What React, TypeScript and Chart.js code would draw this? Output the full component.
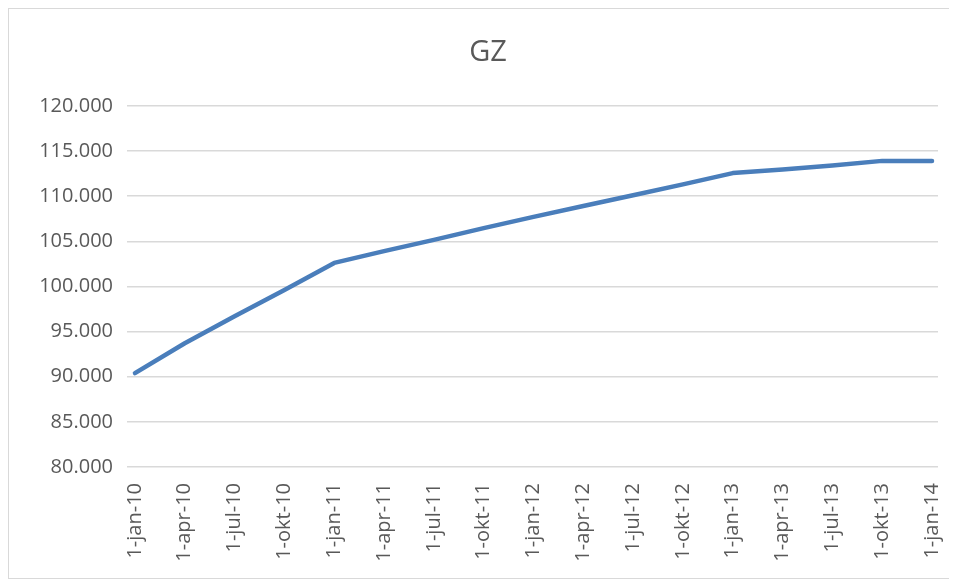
import React, { useEffect, useRef } from "react";
import { Chart, registerables } from "chart.js";

Chart.register(...registerables);

const title = "GZ";
const categories = [
  "1-jan-10", "1-apr-10", "1-jul-10", "1-okt-10",
  "1-jan-11", "1-apr-11", "1-jul-11", "1-okt-11",
  "1-jan-12", "1-apr-12", "1-jul-12", "1-okt-12",
  "1-jan-13", "1-apr-13", "1-jul-13", "1-okt-13",
  "1-jan-14",
];
const gzValues = [
  90400, 93700, 96700, 99600,
  102600, 103900, 105150, 106450,
  107700, 108900, 110100, 111300,
  112550, 112950, 113400, 113900,
  113900,
];
const yMin = 80000;
const yMax = 120000;
const yStep = 5000;

function formatNl(v: number): string {
  const s = Math.round(v).toString();
  return s.replace(/\B(?=(\d{3})+(?!\d))/g, ".");
}

export default function App() {
  const ref = useRef<HTMLCanvasElement | null>(null);
  useEffect(() => {
    if (!ref.current) return;
    const font = "'Open Sans', 'DejaVu Sans', sans-serif";
    const chart = new Chart(ref.current, {
      type: "line",
      data: {
        datasets: [
          {
            label: title,
            data: gzValues.map((v, i) => ({ x: i, y: v })),
            borderColor: "#4a7ebb",
            backgroundColor: "#4a7ebb",
            borderWidth: 4.5,
            pointRadius: 0,
            borderCapStyle: "round",
            borderJoinStyle: "round",
            tension: 0,
            fill: false,
          },
        ],
      },
      options: {
        animation: false,
        responsive: false,
        maintainAspectRatio: false,
        layout: { padding: { left: 15, right: 0, top: 0, bottom: 0 } },
        plugins: {
          legend: { display: false },
          tooltip: { enabled: false },
          title: {
            display: true,
            text: title,
            color: "#595959",
            font: { family: font, size: 29, weight: "normal" },
            padding: { top: 26, bottom: 36 },
          },
        },
        scales: {
          x: {
            type: "linear",
            min: -0.16,
            max: categories.length - 1 + 0.12,
            grid: { display: false, drawTicks: false },
            border: { display: false },
            afterBuildTicks: (scale: any) => {
              scale.ticks = categories.map((_, i) => ({ value: i }));
            },
            afterFit: (scale: any) => {
              scale.height = 111;
              scale.paddingLeft = 0;
              scale.paddingRight = 14;
            },
            ticks: {
              autoSkip: false,
              maxRotation: 90,
              minRotation: 90,
              padding: 16,
              color: "#595959",
              font: { family: font, size: 20 },
              callback: (v: any) => categories[Math.round(Number(v))] ?? "",
            },
          },
          y: {
            type: "linear",
            min: yMin,
            max: yMax,
            grid: { color: "#d9d9d9", lineWidth: 1.5, drawTicks: false },
            border: { display: false },
            afterFit: (scale: any) => {
              scale.width = 103;
            },
            ticks: {
              stepSize: yStep,
              padding: 14,
              color: "#595959",
              font: { family: font, size: 20 },
              callback: (v: any) => formatNl(Number(v)),
            },
          },
        },
      },
    });
    return () => chart.destroy();
  }, []);

  return (
    <div
      style={{
        width: 943,
        height: 569,
        border: "1px solid #d9d9d9",
        background: "#fff",
      }}
    >
      <canvas ref={ref} width={943} height={569} style={{ display: "block" }} />
    </div>
  );
}
